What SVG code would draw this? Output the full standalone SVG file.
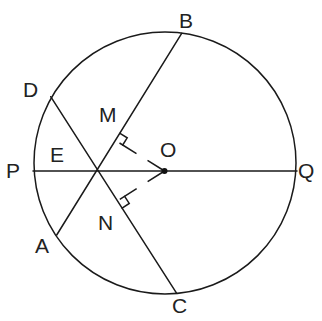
<svg xmlns="http://www.w3.org/2000/svg" width="322" height="321" viewBox="0 0 322 321">
<style>
.ln{fill:none;stroke:#1a1a1a;stroke-width:1.5;stroke-linecap:round}
.dash{fill:none;stroke:#1a1a1a;stroke-width:1.5;stroke-dasharray:20 13}
.lb{font-family:"Liberation Sans",Arial,sans-serif;font-size:21px;fill:#222}
</style>
<rect width="322" height="321" fill="#fff"/>
<g id="circle">
<circle class="ln" cx="165" cy="163" r="131"/>
</g>
<g id="connectors">
<line class="ln" x1="33" y1="171" x2="297" y2="171"/>
<line class="ln" x1="56.7" y1="235" x2="181.7" y2="33.3"/>
<line class="ln" x1="50.7" y1="96.7" x2="176.7" y2="293.3"/>
<line class="dash" x1="164.5" y1="171" x2="115.5" y2="140.5"/>
<line class="dash" x1="164.5" y1="171" x2="117.5" y2="200.9"/>
<polyline class="ln" points="120,133.3 127.2,137.8 122.7,145"/>
<polyline class="ln" points="124.65,196.3 129.24,203.46 122.1,208.06"/>
</g>
<g id="O"><circle cx="164.5" cy="171" r="3" fill="#111"/><text class="lb" x="160" y="157">O</text></g>
<g id="B"><text class="lb" x="179" y="28">B</text></g>
<g id="D"><text class="lb" x="23" y="97">D</text></g>
<g id="M"><text class="lb" x="99" y="122">M</text></g>
<g id="E"><text class="lb" x="50" y="162">E</text></g>
<g id="P"><text class="lb" x="6" y="178">P</text></g>
<g id="Q"><text class="lb" x="298" y="178">Q</text></g>
<g id="N"><text class="lb" x="98" y="230">N</text></g>
<g id="A"><text class="lb" x="35" y="253">A</text></g>
<g id="C"><text class="lb" x="172" y="313">C</text></g>
</svg>
